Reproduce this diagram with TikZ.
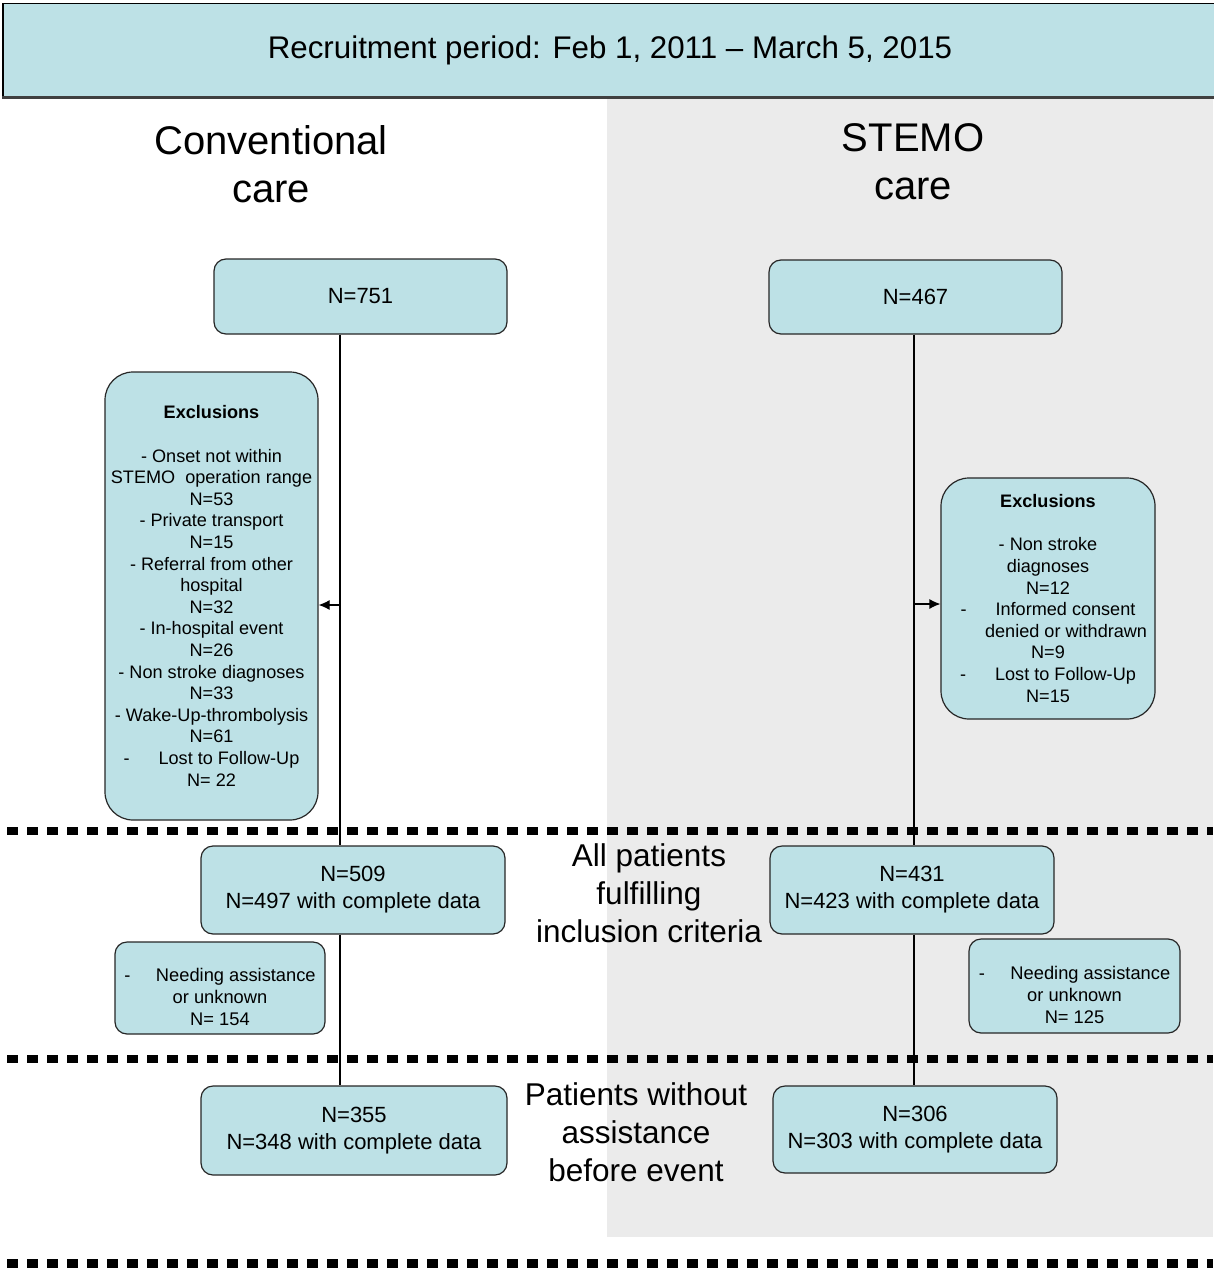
\documentclass[tikz,border=0pt]{standalone}
\usepackage{fontspec}
\setmainfont{Liberation Sans}
\usepackage{tikz}
\usetikzlibrary{arrows.meta, calc}
\definecolor{boxblue}{RGB}{189, 225, 230}
\definecolor{gray92}{RGB}{235, 235, 235}

\begin{document}
\begin{tikzpicture}[x=1pt, y=-1pt,
  flowbox/.style={draw=black!85, fill=boxblue, line width=1.2pt, rounded corners=12pt, inner sep=0pt, align=center, font=\fontsize{22}{27}\selectfont},
  exclbox/.style={flowbox, rounded corners=28pt, font=\fontsize{18.1}{21.6}\selectfont},
  needbox/.style={flowbox, font=\fontsize{18.3}{22}\selectfont},
  sepline/.style={line width=7.5pt, dash pattern=on 11pt off 9pt, dash phase=13pt},
  heading/.style={align=center, font=\fontsize{40}{48}\selectfont},
  stage/.style={align=center, font=\fontsize{31.5}{38}\selectfont},
  link/.style={line width=1.2pt}]
  \useasboundingbox (0,0) rectangle (1213,1273);
  % STEMO side
  \fill[gray92] (607,97) rectangle (1213,1237);
  \node[draw, fill=boxblue, line width=1.6pt, minimum width=1214pt, minimum height=93pt, inner sep=0pt, font=\fontsize{31.3}{38}\selectfont] (recruit) at (610,50) {Recruitment period: Feb 1, 2011 -- March 5, 2015};
  \draw[line width=2.5pt, black!75] (recruit.south west) -- (recruit.south east);

  \node[heading] (convtitle) at (271,164) {Conventional\\care};
  \node[heading] (stemotitle) at (913,162) {STEMO\\care};

  \node[flowbox, minimum width=293pt, minimum height=75pt] (n751) at (360.5,296.5) {N=751};
  \node[flowbox, minimum width=293pt, minimum height=74pt] (n467) at (915.5,297) {N=467};

  \node[exclbox, minimum width=213pt, minimum height=448pt] (exl) at (211.5,596) {\textbf{Exclusions}\\[21.6pt]
    - Onset not within\\
    STEMO\ \ operation range\\
    N=53\\
    - Private transport\\
    N=15\\
    - Referral from other\\
    hospital\\
    N=32\\
    - In-hospital event\\
    N=26\\
    - Non stroke diagnoses\\
    N=33\\
    - Wake-Up-thrombolysis\\
    N=61\\
    -\hspace{1.6em}Lost to Follow-Up\\
    N= 22};
  \node[exclbox, minimum width=214pt, minimum height=241pt] (exr) at (1048,598.5) {\textbf{Exclusions}\\[21.6pt]
    - Non stroke\\
    diagnoses\\
    N=12\\
    -\hspace{1.6em}Informed consent\\
    \hspace*{2em}denied or withdrawn\\
    N=9\\
    -\hspace{1.6em}Lost to Follow-Up\\
    N=15};

  \node[flowbox, minimum width=304pt, minimum height=88pt] (n509) at (353,890) {N=509\\N=497 with complete data};
  \node[flowbox, minimum width=284pt, minimum height=88pt] (n431) at (912,890) {N=431\\N=423 with complete data};
  \node[stage] (incl) at (649,893) {All patients\\fulfilling\\inclusion criteria};

  \node[needbox, minimum width=210pt, minimum height=92pt] (nal) at (220,988) {\rule{0pt}{31pt}-\hspace{1.4em}Needing assistance\\or unknown\\N= 154};
  \node[needbox, minimum width=211pt, minimum height=94pt] (nar) at (1074.5,986) {\rule{0pt}{31pt}-\hspace{1.4em}Needing assistance\\or unknown\\N= 125};

  \node[flowbox, minimum width=306pt, minimum height=89pt] (n355) at (354,1130.5) {N=355\\N=348 with complete data};
  \node[flowbox, minimum width=284pt, minimum height=87pt] (n306) at (915,1129.5) {N=306\\N=303 with complete data};
  \node[stage] (noassist) at (636,1132) {Patients without\\assistance\\before event};

  % flow lines
  \coordinate (lcol) at (340,605);
  \coordinate (rcol) at (914,604);
  \draw[link] (n751.south -| lcol) -- (n509.north -| lcol);
  \draw[link] (n509.south -| lcol) -- (n355.north -| lcol);
  \draw[link] (n467.south -| rcol) -- (n431.north -| rcol);
  \draw[link] (n431.south -| rcol) -- (n306.north -| rcol);
  \draw[link, -{Latex[length=11pt, width=10pt]}] (lcol) -- (lcol -| exl.east);
  \draw[link, -{Latex[length=11pt, width=10pt]}] (rcol) -- (rcol -| exr.west);

  \draw[sepline] (0,831) -- (1213,831);
  \draw[sepline] (0,1059) -- (1213,1059);
  \draw[sepline, line width=9pt] (0,1263) -- (1213,1263);
\end{tikzpicture}
\end{document}
